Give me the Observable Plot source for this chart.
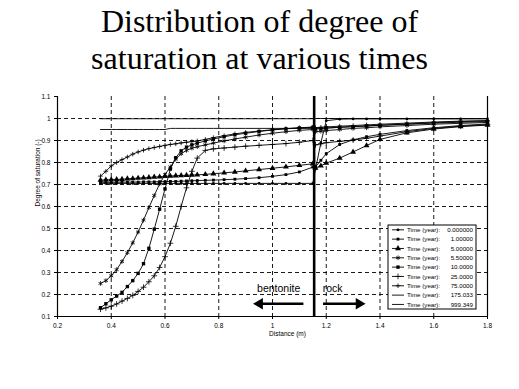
<!DOCTYPE html>
<html><head><meta charset="utf-8">
<script src="https://cdn.jsdelivr.net/npm/d3@7"></script>
<script src="https://cdn.jsdelivr.net/npm/@observablehq/plot@0.6"></script>
<style>
html,body{margin:0;padding:0;background:#fff;}
body{width:519px;height:389px;overflow:hidden;}
#chart svg{display:block;}
</style></head><body>
<div id="title" style="box-sizing:border-box;height:80px;padding-top:3px;font-family:'Liberation Serif',serif;font-size:32px;line-height:37px;text-align:center;color:#000;">Distribution of degree of<br>saturation at various times</div>
<div id="chart"></div>
<script>
// ---- data ----
const xBentonite = [0.36,0.38,0.40,0.42,0.44,0.46,0.48,0.50,0.52,0.54,0.56,0.58,0.60,0.62,0.64,0.66,0.68,0.70,0.72,0.75,0.78,0.82,0.86,0.90,0.95,1.00,1.05,1.10,1.15];
const xRock = [1.16,1.18,1.20,1.25,1.30,1.35,1.40,1.50,1.60,1.70,1.80];
const timeLabels = ["0.000000","1.00000","5.00000","5.50000","10.0000","25.0000","75.0000","175.033","999.349"];

const t0_b  = [0.705,0.705,0.705,0.705,0.705,0.705,0.705,0.705,0.705,0.705,0.705,0.705,0.705,0.705,0.705,0.705,0.705,0.705,0.705,0.705,0.705,0.705,0.705,0.705,0.705,0.705,0.705,0.705,0.705];
const t0_r  = [0.77,0.89,0.99,0.997,0.998,0.998,0.998,0.998,0.998,0.998,0.998];
const t1_b  = [0.710,0.710,0.710,0.710,0.711,0.711,0.711,0.711,0.712,0.712,0.712,0.713,0.713,0.714,0.714,0.715,0.716,0.717,0.718,0.719,0.720,0.722,0.724,0.727,0.731,0.737,0.745,0.757,0.779];
const t1_r  = [0.78,0.81,0.84,0.882,0.903,0.917,0.928,0.945,0.958,0.968,0.975];
const t5_b  = [0.720,0.721,0.722,0.723,0.724,0.726,0.727,0.729,0.730,0.732,0.734,0.735,0.737,0.738,0.740,0.741,0.742,0.743,0.744,0.746,0.749,0.753,0.757,0.762,0.768,0.774,0.780,0.787,0.794];
const t5_r  = [0.775,0.785,0.797,0.82,0.848,0.877,0.905,0.935,0.952,0.963,0.970];
const t55_b = [0.25,0.263,0.285,0.313,0.35,0.39,0.435,0.484,0.538,0.595,0.65,0.703,0.745,0.78,0.815,0.84,0.855,0.865,0.872,0.88,0.888,0.898,0.907,0.915,0.925,0.933,0.94,0.946,0.95];
const t55_r = [0.94,0.942,0.945,0.95,0.955,0.958,0.962,0.968,0.974,0.978,0.982];
const t10_b = [0.14,0.158,0.176,0.193,0.21,0.236,0.263,0.296,0.34,0.41,0.497,0.588,0.68,0.77,0.822,0.853,0.87,0.88,0.888,0.898,0.907,0.917,0.926,0.933,0.941,0.948,0.953,0.957,0.96];
const t10_r = [0.952,0.954,0.956,0.96,0.963,0.966,0.969,0.974,0.979,0.983,0.986];
const t25_b = [0.133,0.139,0.147,0.157,0.17,0.182,0.196,0.214,0.233,0.258,0.285,0.323,0.372,0.433,0.51,0.6,0.685,0.76,0.82,0.855,0.862,0.866,0.87,0.874,0.878,0.882,0.886,0.892,0.9];
const t25_r = [0.88,0.885,0.89,0.896,0.902,0.91,0.92,0.94,0.955,0.965,0.972];
const t75_b = [0.738,0.76,0.785,0.8,0.813,0.825,0.838,0.848,0.856,0.863,0.868,0.873,0.878,0.882,0.885,0.889,0.892,0.895,0.898,0.905,0.913,0.922,0.93,0.937,0.943,0.949,0.954,0.958,0.961];
const t75_r = [0.958,0.96,0.962,0.965,0.968,0.971,0.974,0.979,0.984,0.988,0.99];
const t175_b= [0.95,0.95,0.95,0.95,0.95,0.95,0.95,0.95,0.95,0.95,0.95,0.95,0.95,0.955,0.955,0.955,0.955,0.955,0.955,0.955,0.955,0.955,0.955,0.955,0.955,0.955,0.955,0.955,0.955];
const t175_r= [0.955,0.956,0.957,0.96,0.963,0.966,0.969,0.975,0.981,0.986,0.99];
const t999_b= [0.999,0.999,0.999,0.999,0.999,0.999,0.999,0.999,0.999,0.999,0.999,0.999,0.999,0.999,0.999,0.999,0.999,0.999,0.999,0.999,0.999,0.999,0.999,0.999,0.999,0.999,0.999,0.999,0.999];
const t999_r= [1.0,1.0,1.0,1.0,1.0,1.0,1.0,1.0,1.0,1.0,1.0];

const interfaceX = 1.155;
const xTicks = [0.2,0.4,0.6,0.8,1.0,1.2,1.4,1.6,1.8];
const yTicks = [0.1,0.2,0.3,0.4,0.5,0.6,0.7,0.8,0.9,1.0,1.1];
const arrows = [{from:1.115, to:0.952, dir:-90}, {from:1.188, to:1.322, dir:90}];

// ---- build table ----
const seriesB = [t0_b,t1_b,t5_b,t55_b,t10_b,t25_b,t75_b,t175_b,t999_b];
const seriesR = [t0_r,t1_r,t5_r,t55_r,t10_r,t25_r,t75_r,t175_r,t999_r];
const rows = [];
timeLabels.forEach((t,i)=>{
  xBentonite.forEach((x,j)=>rows.push({x, y: seriesB[i][j], t}));
  xRock.forEach((x,j)=>rows.push({x, y: seriesR[i][j], t}));
});
const sym = {
  "0.000000":{symbol:"circle",r:1.4,fill:"black",stroke:"none"},
  "1.00000":{symbol:"square",r:1.6,fill:"black",stroke:"none"},
  "5.00000":{symbol:"triangle",r:2.2,fill:"black",stroke:"none"},
  "5.50000":{symbol:"asterisk",r:2.2,fill:"none",stroke:"black"},
  "10.0000":{symbol:"square",r:1.9,fill:"black",stroke:"none"},
  "25.0000":{symbol:"plus",r:2.0,fill:"none",stroke:"black"},
  "75.0000":{symbol:"plus",r:1.6,fill:"none",stroke:"black"}
};
const fmt = d => String(+(+d).toFixed(1));
const font = '"Liberation Sans",Arial,sans-serif';

const dotMarks = Object.entries(sym).map(([t,s]) =>
  Plot.dot(rows.filter(r=>r.t===t), {x:"x", y:"y", symbol: s.symbol, r: s.r, fill: s.fill, stroke: s.stroke, strokeWidth: 0.8})
);

const plot = Plot.plot({
  width: 519, height: 270,
  marginLeft: 57, marginRight: 32, marginTop: 16, marginBottom: 34,
  style: {fontFamily: font, background: "#fff", color: "#000"},
  x: {domain: [0.2, 1.8]},
  y: {domain: [0.1, 1.1]},
  marks: [
    Plot.gridY(yTicks.filter(v=>v>0.1 && v<1.1), {stroke:"black", strokeOpacity:1, strokeWidth:0.9, strokeDasharray:"4,3"}),
    Plot.gridX(xTicks.filter(v=>v>0.2 && v<1.8), {stroke:"black", strokeOpacity:1, strokeWidth:0.9, strokeDasharray:"4,3"}),
    Plot.ruleY([0.1], {stroke:"black", strokeWidth:1.2}),
    Plot.ruleX([0.2], {stroke:"black", strokeWidth:1.2}),
    Plot.ruleX([1.8], {stroke:"black", strokeWidth:1.2}),
    Plot.axisY({ticks: yTicks, tickFormat: fmt, tickSize: 3, tickPadding: 4, fontSize: 6.5, label: null}),
    Plot.axisX({ticks: xTicks, tickFormat: fmt, tickSize: 3, tickPadding: 4, fontSize: 6.5, label: null}),
    Plot.ruleX([interfaceX], {stroke:"black", strokeWidth:2.6}),
    Plot.line(rows, {x:"x", y:"y", z:"t", stroke:"black", strokeWidth:0.9}),
    ...dotMarks,
    Plot.text(["bentonite"], {x: 1.023, y: 0.225, text: d=>d, fontSize: 10.5, fill:"black"}),
    Plot.text(["rock"], {x: 1.224, y: 0.225, text: d=>d, fontSize: 10.5, fill:"black"}),
    Plot.link(arrows, {x1:"from", x2:"to", y1:0.158, y2:0.158, stroke:"black", strokeWidth:2.4}),
    Plot.dot(arrows, {x:"to", y:0.158, symbol:"triangle", r:4.2, rotate:"dir", fill:"black", stroke:"none"}),
    Plot.text(["Distance (m)"], {frameAnchor:"bottom", dx: 15, dy: 19, text: d=>d, fontSize: 6.5, fill:"black"}),
    Plot.text(["Degree of saturation (-)"], {frameAnchor:"left", dx: -20, rotate: -90, text: d=>d, fontSize: 6.5, fill:"black"})
  ]
});
document.getElementById("chart").appendChild(plot);

// ---- legend box inside the plot area ----
const svg = d3.select(plot);
const lg = svg.append("g").attr("font-family", font).attr("font-size", 6.2).attr("fill", "black").attr("text-anchor", "start");
const lx = 388, ly = 145, lw = 88, lh = 84;
lg.append("rect").attr("x", lx).attr("y", ly).attr("width", lw).attr("height", lh).attr("fill", "white").attr("stroke", "black").attr("stroke-width", 1);
timeLabels.forEach((t,i) => {
  const cy = ly + 4.8 + i * 9.33;
  lg.append("line").attr("x1", lx+4).attr("x2", lx+16).attr("y1", cy).attr("y2", cy).attr("stroke","black").attr("stroke-width",0.9);
  const s = sym[t];
  if (s) {
    const p = d3.symbol().type({circle:d3.symbolCircle,square:d3.symbolSquare,triangle:d3.symbolTriangle,asterisk:d3.symbolAsterisk,plus:d3.symbolPlus}[s.symbol]).size(Math.PI*s.r*s.r)();
    lg.append("path").attr("d", p).attr("transform", `translate(${lx+10},${cy})`).attr("fill", s.fill).attr("stroke", s.stroke === "none" ? null : "black").attr("stroke-width", 0.8);
  }
  lg.append("text").attr("x", lx+19).attr("y", cy).attr("dy", "0.35em").attr("text-anchor","start").text("Time (year):");
  lg.append("text").attr("x", lx+lw-3).attr("y", cy).attr("dy", "0.35em").attr("text-anchor","end").text(t);
});
</script>
</body></html>
